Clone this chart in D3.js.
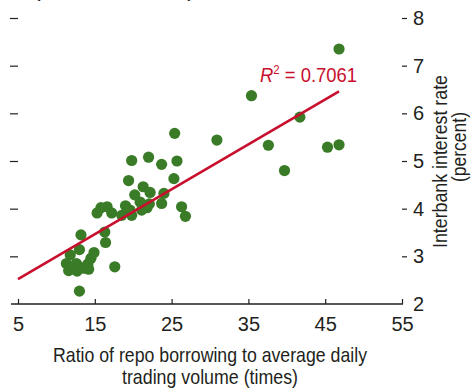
<!DOCTYPE html>
<html>
<head>
<meta charset="utf-8">
<script src="https://cdn.jsdelivr.net/npm/d3@7"></script>
<style>
  html, body { margin: 0; padding: 0; background: #fff; }
  svg { display: block; }
  text { font-family: "Liberation Sans", Arial, sans-serif; fill: #231f20; }
</style>
</head>
<body>
<svg id="chart" width="472" height="389"></svg>
<script>
// Ratio of repo borrowing to average daily trading volume (times)
const repoRatio = [
  46.8, 41.7, 35.4, 37.6, 39.7, 45.3, 46.8, 30.9, 25.4, 25.7,
  23.7, 22.0, 19.8, 19.4, 25.3, 21.3, 22.2, 20.2, 24.0, 23.7,
  26.3, 26.8, 22.1, 21.8, 21.1, 20.9, 19.0, 19.6, 18.5, 19.8,
  16.6, 15.8, 15.3, 17.2, 16.3, 16.4, 13.2, 13.0, 14.9, 14.5,
  14.1, 14.2, 11.8, 11.3, 12.6, 11.6, 12.7, 13.1, 17.6, 13.0,
  13.6
];
// Interbank interest rate (percent)
const interbankRate = [
  7.35, 5.92, 6.37, 5.33, 4.80, 5.29, 5.34, 5.44, 5.58, 5.00,
  4.93, 5.08, 5.01, 4.59, 4.63, 4.46, 4.34, 4.29, 4.32, 4.11,
  4.04, 3.84, 4.10, 4.02, 3.97, 4.14, 4.06, 3.97, 3.86, 3.86,
  4.04, 4.02, 3.91, 3.91, 3.51, 3.29, 3.45, 3.14, 3.08, 2.96,
  2.84, 2.73, 3.03, 2.85, 2.85, 2.70, 2.69, 2.77, 2.78, 2.27,
  2.75
];
// Linear trend end points
const trendX = [5, 46.8];
const trendY = [2.52, 6.46];
const rSquared = "0.7061";

const xTicks = [5, 15, 25, 35, 45, 55];
const yTicks = [2, 3, 4, 5, 6, 7, 8];

const svg = d3.select("#chart");
const x = d3.scaleLinear().domain([5, 55]).range([18, 402]);
const y = d3.scaleLinear().domain([2, 8]).range([304, 18]);

const ink = "#231f20";
const red = "#c8102e";
const green = "#3a7b27";

// squeeze a text to a given width (condensed look)
function fit(sel, w) {
  sel.attr("textLength", w).attr("lengthAdjust", "spacingAndGlyphs");
  return sel;
}

// partially visible heading line at the very top
fit(svg.append("text")
  .attr("x", 33).attr("y", -3)
  .attr("font-size", 20)
  .text("(Percent; times)"), 162);

// left axis: tick marks only
const yLeft = svg.append("g").attr("transform", `translate(${x(5)},0)`)
  .call(d3.axisLeft(y).tickValues(yTicks.filter(v => v > 2)).tickSize(8).tickFormat(""));
yLeft.select(".domain").remove();
yLeft.selectAll(".tick line").attr("stroke", ink).attr("stroke-width", 1.2);

// right axis with labels
const yRight = svg.append("g").attr("transform", `translate(${x(55)},0)`)
  .call(d3.axisRight(y).tickValues(yTicks).tickSize(5).tickPadding(6).tickFormat(d3.format("d")));
yRight.select(".domain").remove();
yRight.selectAll(".tick line").attr("stroke", ink).attr("stroke-width", 1.2)
  .filter(d => d === 2).remove();
yRight.selectAll(".tick text").attr("font-size", 20).attr("fill", ink)
  .attr("font-family", "Liberation Sans, Arial, sans-serif");

// bottom axis
const xAxis = svg.append("g").attr("transform", `translate(0,${y(2)})`)
  .call(d3.axisBottom(x).tickValues(xTicks).tickSizeInner(-5).tickSizeOuter(0).tickPadding(13));
xAxis.select(".domain").remove();
xAxis.selectAll(".tick line").attr("stroke", ink).attr("stroke-width", 1.2);
xAxis.selectAll(".tick text").attr("font-size", 20).attr("fill", ink)
  .attr("font-family", "Liberation Sans, Arial, sans-serif");
xAxis.append("line")
  .attr("x1", x(5) - 7).attr("x2", x(55) + 1)
  .attr("stroke", ink).attr("stroke-width", 1.3);

// points
svg.append("g").selectAll("circle")
  .data(repoRatio.map((v, i) => [v, interbankRate[i]]))
  .join("circle")
  .attr("cx", d => x(d[0])).attr("cy", d => y(d[1]))
  .attr("r", 5.6).attr("fill", green);

// trend line
svg.append("line")
  .attr("x1", x(trendX[0])).attr("y1", y(trendY[0]))
  .attr("x2", x(trendX[1])).attr("y2", y(trendY[1]))
  .attr("stroke", red).attr("stroke-width", 2.6);

// R-squared annotation
const r2g = svg.append("g");
const r2 = r2g.append("text").attr("font-size", 21).style("fill", red);
r2.append("tspan").attr("font-style", "italic").style("fill", red).text("R");
r2.append("tspan").attr("dy", -8).attr("font-size", 13).style("fill", red).text("2");
r2.append("tspan").attr("dy", 8).style("fill", red).text(" = " + rSquared);
const r2w = r2.node().getBBox().width;
r2g.attr("transform", `translate(260,82) scale(${97 / r2w},1)`);

// axis titles
fit(svg.append("text")
  .attr("x", 210).attr("y", 362).attr("text-anchor", "middle").attr("font-size", 21)
  .text("Ratio of repo borrowing to average daily"), 314);
fit(svg.append("text")
  .attr("x", 210).attr("y", 384).attr("text-anchor", "middle").attr("font-size", 21)
  .text("trading volume (times)"), 176);

fit(svg.append("text")
  .attr("transform", "translate(447,161.5) rotate(-90)")
  .attr("text-anchor", "middle").attr("font-size", 21)
  .text("Interbank interest rate"), 173);
fit(svg.append("text")
  .attr("transform", "translate(466,147) rotate(-90)")
  .attr("text-anchor", "middle").attr("font-size", 21)
  .text("(percent)"), 70);
</script>
</body>
</html>
